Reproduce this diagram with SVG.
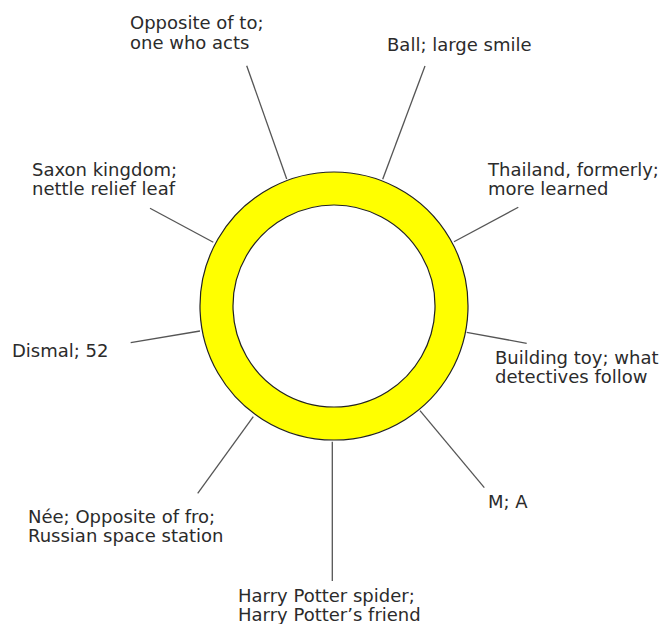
<svg xmlns="http://www.w3.org/2000/svg" width="661" height="624" viewBox="0 0 661 624">
<style>
.lbl{font-family:"DejaVu Sans","Liberation Sans",sans-serif;font-size:18px;fill:#2b2b2b}
.con{stroke:#555;stroke-width:1.3;fill:none}
.ring{fill:#ffff00;stroke:#222;stroke-width:1.2;fill-rule:evenodd}
</style>
<rect width="661" height="624" fill="#fff"/>
<g id="ring">
<path class="ring" d="M334,172 a134,134 0 1,0 0.01,0 Z M334,205 a101,101 0 1,0 0.01,0 Z"/>
</g>
<g id="connectors">
<line class="con" x1="246.7" y1="65.7" x2="286.7" y2="179"/>
<line class="con" x1="425" y1="66" x2="382.7" y2="179.3"/>
<line class="con" x1="150" y1="208.3" x2="213.3" y2="242.3"/>
<line class="con" x1="518.3" y1="207.3" x2="454" y2="241.7"/>
<line class="con" x1="130.7" y1="342.7" x2="200" y2="331"/>
<line class="con" x1="466.7" y1="332.3" x2="526.7" y2="343.3"/>
<line class="con" x1="253.3" y1="416.7" x2="197.7" y2="493.3"/>
<line class="con" x1="332.3" y1="441.7" x2="332.3" y2="581"/>
<line class="con" x1="420" y1="410.7" x2="484.3" y2="487.7"/>
</g>
<g id="n-opposite"><text class="lbl" x="130" y="29">Opposite of to;</text><text class="lbl" x="130" y="48.5">one who acts</text></g>
<g id="n-ball"><text class="lbl" x="387" y="51">Ball; large smile</text></g>
<g id="n-saxon"><text class="lbl" x="32" y="176">Saxon kingdom;</text><text class="lbl" x="32" y="195">nettle relief leaf</text></g>
<g id="n-thailand"><text class="lbl" x="488" y="176">Thailand, formerly;</text><text class="lbl" x="488" y="195">more learned</text></g>
<g id="n-dismal"><text class="lbl" x="12" y="357">Dismal; 52</text></g>
<g id="n-building"><text class="lbl" x="495" y="364">Building toy; what</text><text class="lbl" x="495" y="383.3">detectives follow</text></g>
<g id="n-nee"><text class="lbl" x="28" y="522.7">Née; Opposite of fro;</text><text class="lbl" x="28" y="541.7">Russian space station</text></g>
<g id="n-harry"><text class="lbl" x="238" y="601.5">Harry Potter spider;</text><text class="lbl" x="238" y="620.5">Harry Potter’s friend</text></g>
<g id="n-ma"><text class="lbl" x="488" y="508">M; A</text></g>
</svg>
